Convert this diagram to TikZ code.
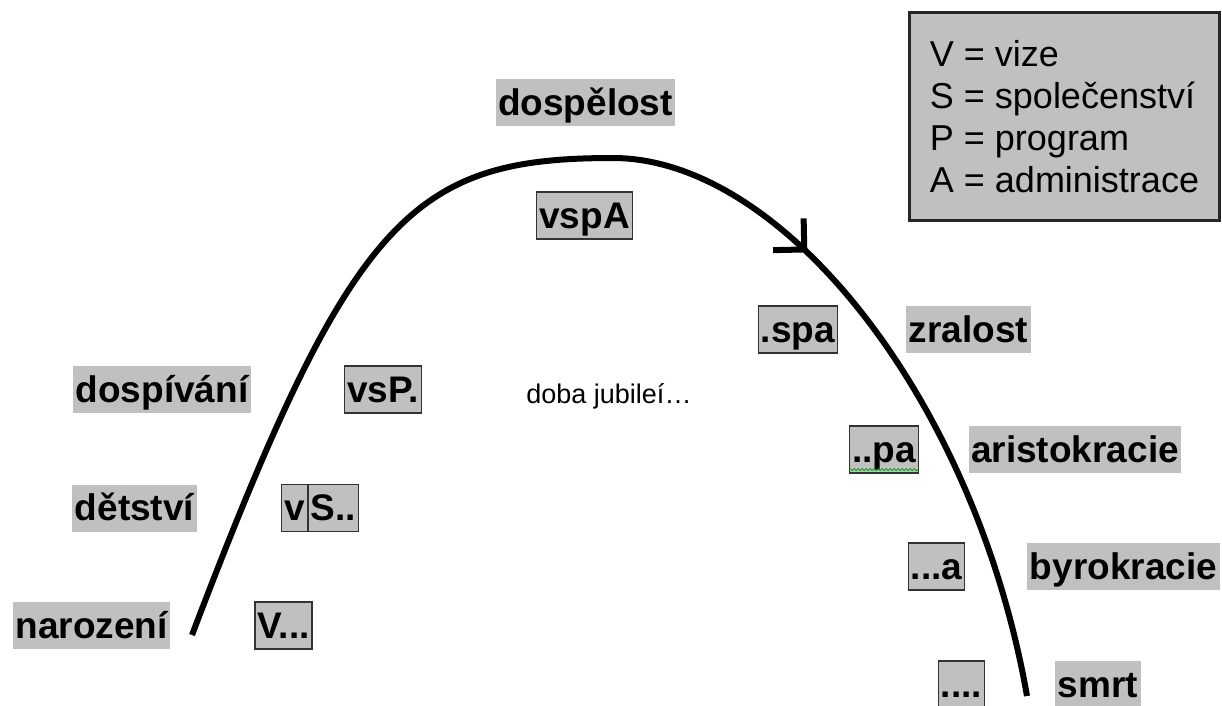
\documentclass[tikz,border=0pt]{standalone}
\usepackage{fontspec}
\setmainfont{Liberation Sans}
\usetikzlibrary{arrows.meta,decorations.markings,decorations.pathmorphing}
\definecolor{boxgray}{RGB}{192,192,192}

\begin{document}
\begin{tikzpicture}[x=1pt,y=-1pt,
  phase node/.style={fill=boxgray,inner xsep=2.5pt,inner ysep=3pt,text height=33pt,text depth=8pt,
    font=\fontsize{37}{40}\selectfont\bfseries},
  code node/.style={phase node,draw=black!80,line width=1.2pt},
  legend node/.style={draw=black!85,line width=3pt,fill=boxgray,align=left,
    font=\fontsize{36}{42}\selectfont}]
\useasboundingbox (0,0) rectangle (1222,705);

\draw[line width=6pt,postaction={decorate},
  decoration={markings,mark=at position 0.645 with {\arrow{Straight Barb[length=22pt,width=44pt]}}}]
  (192,635) .. controls (352,214) and (413,158) .. (613,158)
  .. controls (783,158) and (975,400) .. (1027,696);

\node[phase node](dospelost) at (585.5,102.5) {dospělost};
\node[code node](vspA) at (584.5,215.5) {vspA};
\node[phase node](dospivani) at (162,389.5) {dospívání};
\node[code node](vsP) at (383,389.5) {vsP.};
\node[phase node](detstvi) at (134.5,508) {dětství};
\node[code node](vS) at (294.5,508) {v};
\node[code node,anchor=west](Sdots) at (vS.east) {S..};
\node[phase node](narozeni) at (91.5,625.5) {narození};
\node[code node](Vdots) at (283.5,625.5) {V...};
\node[anchor=base,font=\fontsize{27}{30}\selectfont](jubilee) at (609,403) {doba jubileí…};
\node[code node](spa) at (798,329.5) {.spa};
\node[phase node](zralost) at (968.5,329.5) {zralost};
\node[code node](pa) at (884,449.5) {..pa};
\node[phase node](aristokracie) at (1075,449.5) {aristokracie};
\node[code node](a) at (936.5,566.5) {...a};
\node[phase node](byrokracie) at (1123.5,566.5) {byrokracie};
\node[code node](dots) at (961.5,684.5) {....};
\node[phase node](smrt) at (1098,684.5) {smrt};

\draw[green!60!black,line width=0.8pt,decorate,decoration={snake,amplitude=1pt,segment length=4pt}]
  ([yshift=4pt]pa.south west) -- ([yshift=4pt]pa.south east);

\node[legend node,anchor=north west,minimum width=310pt,minimum height=208pt](legend)
  at (908,11) {V = vize\\S = společenství\\P = program\\A = administrace};
\end{tikzpicture}
\end{document}
